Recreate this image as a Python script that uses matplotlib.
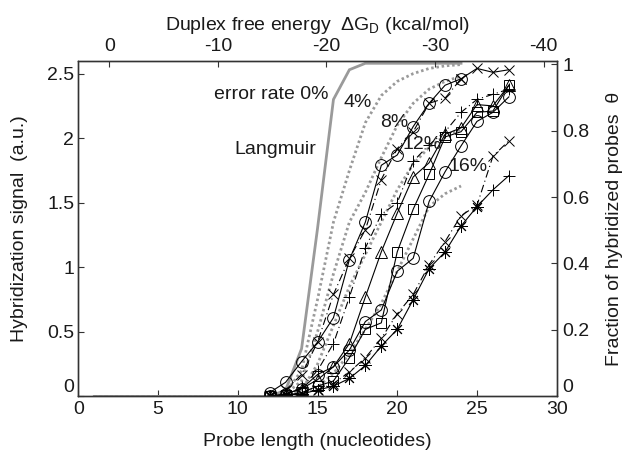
import matplotlib
matplotlib.use("Agg")
import matplotlib.pyplot as plt
import numpy as np

plt.rcParams['font.family'] = ['Liberation Sans', 'DejaVu Sans']
plt.rcParams['mathtext.fontset'] = 'custom'
plt.rcParams['mathtext.rm'] = 'Liberation Sans'
plt.rcParams['mathtext.it'] = 'Liberation Sans'
plt.rcParams['font.size'] = 14

# ---- Langmuir model curves (probe length 1..24) ----
L_lang = list(range(1, 25))
lang_0 = [0]*12 + [0.05, 0.37, 1.30, 2.30, 2.53, 2.58, 2.58, 2.58, 2.58, 2.58, 2.58, 2.58]
lang_4 = [0]*12 + [0.03, 0.20, 0.75, 1.35, 1.75, 2.12, 2.33, 2.44, 2.50, 2.54, 2.56, 2.57]
lang_8 = [0]*12 + [0.02, 0.12, 0.50, 0.95, 1.35, 1.58, 1.85, 2.10, 2.27, 2.38, 2.44, 2.48]
lang_12 = [0]*12 + [0.01, 0.05, 0.25, 0.55, 0.85, 1.10, 1.35, 1.60, 1.80, 1.93, 2.02, 2.07]
lang_16 = [0]*12 + [0.0, 0.02, 0.07, 0.18, 0.33, 0.52, 0.72, 0.97, 1.22, 1.47, 1.57, 1.63]

# ---- Experimental series (probe length 12..27) ----
L_exp = list(range(12, 28))
circ_a = [0.03, 0.11, 0.27, 0.42, 0.61, 1.06, 1.35, 1.79, 1.87, 2.09, 2.27, 2.41, 2.46]   # 12..24
x_a = [0.01, 0.05, 0.17, 0.42, 0.79, 1.07, 1.29, 1.68, 1.92, 2.05, 2.27, 2.31, 2.46, 2.54, 2.51, 2.53]
plus_b = [0.0, 0.02, 0.07, 0.20, 0.41, 0.77, 1.15, 1.41, 1.50, 1.82, 1.95, 2.05, 2.20, 2.30, 2.34, 2.38]
tri = [0.0, 0.02, 0.06, 0.13, 0.23, 0.41, 0.77, 1.12, 1.42, 1.70, 1.81, 2.03, 2.08, 2.26, 2.25, 2.41]
sq = [0.0, 0.01, 0.03, 0.08, 0.12, 0.30, 0.52, 0.57, 1.12, 1.45, 1.72, 2.01, 2.05, 2.20, 2.21, 2.41]
circ_b = [0.0, 0.02, 0.06, 0.17, 0.23, 0.36, 0.58, 0.67, 0.97, 1.07, 1.51, 1.74, 1.94, 2.13, 2.20, 2.32]
x_c = [0.0, 0.01, 0.02, 0.05, 0.10, 0.19, 0.30, 0.45, 0.64, 0.79, 1.02, 1.20, 1.40, 1.48, 1.86, 1.98]
star = [0.0, 0.01, 0.02, 0.05, 0.08, 0.14, 0.24, 0.39, 0.52, 0.75, 0.99, 1.12, 1.32, 1.47, 1.60, 1.71]

# ---- axes text ----
x_label = "Probe length (nucleotides)"
y_label = "Hybridization signal  (a.u.)"
y2_label = "Fraction of hybridized probes  θ"
top_label = r"Duplex free energy  $\Delta$G$_{\rm D}$ (kcal/mol)"
x_ticks = [0, 5, 10, 15, 20, 25, 30]
y_ticks = [0, 0.5, 1, 1.5, 2, 2.5]
y_tick_labels = ["0", "0.5", "1", "1.5", "2", "2.5"]
y2_ticks = [0, 0.2, 0.4, 0.6, 0.8, 1]
y2_tick_labels = ["0", "0.2", "0.4", "0.6", "0.8", "1"]
top_ticks = [0, -10, -20, -30, -40]
top_tick_labels = ["0", "-10", "-20", "-30", "-40"]

GRAY = '#9a9a9a'
TXT = '#1a1a1a'

fig = plt.figure(figsize=(6.23, 4.54), dpi=100)
ax = fig.add_axes([0.1257, 0.1267, 0.7679, 0.7396])
ax.set_xlim(0, 30)
ax.set_ylim(0, 2.6)

# Langmuir curves
ax.plot(L_lang, lang_0, color=GRAY, lw=2.0, solid_joinstyle='miter', zorder=2)
for c in (lang_4, lang_8, lang_12, lang_16):
    ax.plot(L_lang, c, color=GRAY, lw=2.0, ls=(0, (0.9, 1.0)), zorder=2)

mk = dict(mfc='none', mec='black', mew=0.7, color='black', lw=0.8, zorder=3)
dd = (0, (7, 3, 1, 3))
ast = (8, 2, 0)

ax.plot(L_exp[:len(circ_a)], circ_a, marker='o', ms=8.5, ls='-', **mk)
ax.plot(L_exp[:13], x_a[:13], marker='x', ms=7, ls=dd, **mk)
ax.plot(L_exp[12:], x_a[12:], marker='x', ms=7, ls='-', **mk)
ax.plot(L_exp, plus_b, marker='+', ms=9, ls=dd, **mk)
ax.plot(L_exp, tri, marker='^', ms=9, ls='-', **mk)
ax.plot(L_exp, sq, marker='s', ms=7.5, ls='-', **mk)
ax.plot(L_exp, circ_b, marker='o', ms=8.5, ls='-', **mk)
ax.plot(L_exp, x_c, marker='x', ms=7, ls=dd, **mk)
ax.plot(L_exp, star, ls='-', **mk)
ax.plot(L_exp[:14], star[:14], marker=ast, ms=9, ls='none', **mk)
ax.plot(L_exp[14:], star[14:], marker='+', ms=9, ls='none', **mk)

# Annotations
ax.text(15.66, 2.337, "error rate 0%", ha='right', va='center', color=TXT, fontsize=14)
ax.text(14.95, 1.91, "Langmuir", ha='right', va='center', color=TXT, fontsize=14)
ax.text(16.6, 2.275, "4%", ha='left', va='center', color=TXT, fontsize=14)
ax.text(18.92, 2.12, "8%", ha='left', va='center', color=TXT, fontsize=14)
ax.text(20.3, 1.95, "12%", ha='left', va='center', color=TXT, fontsize=14)
ax.text(23.2, 1.78, "16%", ha='left', va='center', color=TXT, fontsize=14)

ax.set_xticks(x_ticks)
ax.set_yticks(y_ticks)
ax.set_yticklabels(y_tick_labels)
ax.tick_params(direction='in', length=4, width=0.8, colors='#333333', labelcolor=TXT,
               labelsize=14, top=False, right=False, pad=3)
ax.set_xlabel(x_label, color=TXT, fontsize=14, labelpad=11)
ax.set_ylabel(y_label, color=TXT, fontsize=14, labelpad=14)

ax2 = ax.twinx()
ax2.set_ylim(0, 1.01)
ax2.set_yticks(y2_ticks)
ax2.set_yticklabels(y2_tick_labels)
ax2.tick_params(direction='in', length=4, width=0.8, colors='#333333', labelcolor=TXT,
                labelsize=14, pad=4)
ax2.set_ylabel(y2_label, color=TXT, fontsize=14, labelpad=12)

ax3 = ax.twiny()
ax3.set_xlim(2.85, -41.2)
ax3.set_xticks(top_ticks)
ax3.set_xticklabels(top_tick_labels)
ax3.tick_params(direction='in', length=4, width=0.8, colors='#333333', labelcolor=TXT,
                labelsize=14, pad=4)
ax3.set_xlabel(top_label, color=TXT, fontsize=14, labelpad=6)

for a in (ax, ax2, ax3):
    for s in a.spines.values():
        s.set_color('#333333')
        s.set_linewidth(0.9)

# lift the "0" labels off the bottom axis as in the reference
ax.yaxis.get_major_ticks()[0].label1.set_verticalalignment('bottom')
ax2.yaxis.get_major_ticks()[0].label2.set_verticalalignment('bottom')

fig.savefig("out.png", dpi=100)
